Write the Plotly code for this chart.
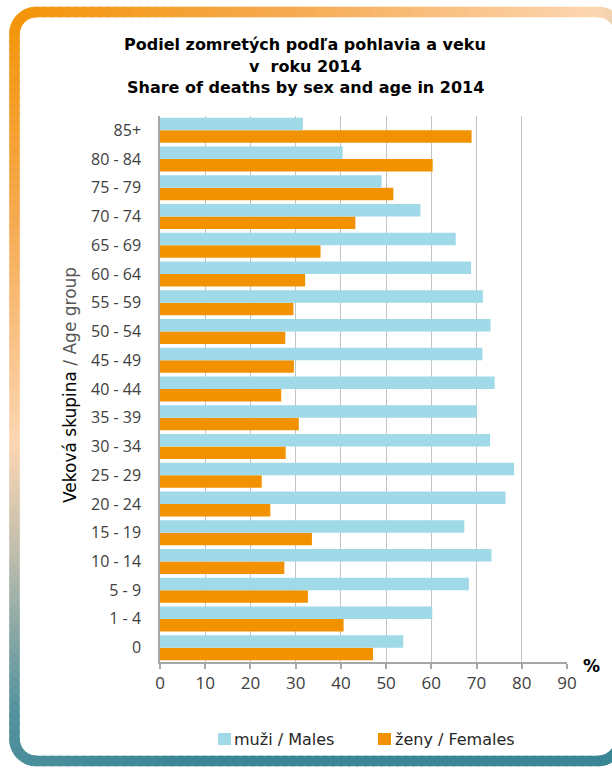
import math

import plotly.graph_objects as go

# age groups, bottom to top
age_groups = ['0', '1 - 4', '5 - 9', '10 - 14', '15 - 19', '20 - 24', '25 - 29',
              '30 - 34', '35 - 39', '40 - 44', '45 - 49', '50 - 54', '55 - 59',
              '60 - 64', '65 - 69', '70 - 74', '75 - 79', '80 - 84', '85+']
males = [53.8, 60.2, 68.3, 73.3, 67.3, 76.4, 78.3, 73.0, 70.1, 74.0,
         71.3, 73.1, 71.4, 68.8, 65.4, 57.6, 49.0, 40.4, 31.6]
females = [47.1, 40.6, 32.7, 27.5, 33.6, 24.4, 22.5, 27.8, 30.7, 26.8,
           29.6, 27.7, 29.5, 32.1, 35.5, 43.2, 51.6, 60.3, 68.9]
x_ticks = [0, 10, 20, 30, 40, 50, 60, 70, 80, 90]
title_lines = ['Podiel zomretých podľa pohlavia a veku',
               'v\u00a0 roku 2014',
               'Share of deaths by sex and age in 2014']
male_name = 'muži / Males'
female_name = 'ženy / Females'

W, H = 612, 768
ML, MR, MT, MB = 160, 45, 116, 106
PW, PH = W - ML - MR, H - MT - MB

BLUE = '#a0dae9'
ORANGE = '#f39200'
TICK_FONT = dict(family='Open Sans, DejaVu Sans, sans-serif', size=16, color='#404040')
TEXT_FONT = 'DejaVu Sans, sans-serif'


def px2paper(x, y):
    return (x - ML) / PW, (H - MB - y) / PH


def lerp(c1, c2, f):
    return tuple(int(round(a + (b - a) * f)) for a, b in zip(c1, c2))


# gradient stops for the frame (orange top-left -> peach -> teal bottom)
stops = [(0.0, (243, 146, 0)), (0.25, (246, 170, 80)), (0.5, (252, 214, 178)),
         (0.62, (192, 190, 172)), (0.8, (82, 146, 158)), (1.0, (58, 134, 150))]


def frame_color(x, y):
    t = max(0.0, min(1.0, 0.5 * x / W + 0.85 * y / H))
    for (t0, c0), (t1, c1) in zip(stops, stops[1:]):
        if t <= t1:
            return 'rgb(%d,%d,%d)' % lerp(c0, c1, (t - t0) / (t1 - t0))
    return 'rgb(%d,%d,%d)' % stops[-1][1]


def frame_points(x0, y0, x1, y1, r, n=14, seg=8):
    pts = []

    def edge(a, b):
        d = math.hypot(b[0] - a[0], b[1] - a[1])
        k = max(1, int(d / seg))
        for i in range(k):
            pts.append((a[0] + (b[0] - a[0]) * i / k, a[1] + (b[1] - a[1]) * i / k))

    def arc(cx, cy, a0):
        for i in range(n):
            a = math.radians(a0 + 90 * i / n)
            pts.append((cx + r * math.cos(a), cy + r * math.sin(a)))

    edge((x0 + r, y0), (x1 - r, y0))
    arc(x1 - r, y0 + r, -90)
    edge((x1, y0 + r), (x1, y1 - r))
    arc(x1 - r, y1 - r, 0)
    edge((x1 - r, y1), (x0 + r, y1))
    arc(x0 + r, y1 - r, 90)
    edge((x0, y1 - r), (x0, y0 + r))
    arc(x0 + r, y0 + r, 180)
    pts.append(pts[0])
    return pts


shapes = []
pts = frame_points(14.5, 12, 620, 761, 22)
for (xa, ya), (xb, yb) in zip(pts, pts[1:]):
    d = math.hypot(xb - xa, yb - ya) or 1
    ux, uy = (xb - xa) / d * 1.5, (yb - ya) / d * 1.5
    pa, pb = px2paper(xa - ux, ya - uy), px2paper(xb + ux, yb + uy)
    shapes.append(dict(type='line', xref='paper', yref='paper',
                       x0=pa[0], y0=pa[1], x1=pb[0], y1=pb[1],
                       line=dict(color=frame_color((xa + xb) / 2, (ya + yb) / 2), width=10.5),
                       layer='below'))

# legend swatches
for (lx, col) in [(218, BLUE), (378, ORANGE)]:
    a, b = px2paper(lx, 733), px2paper(lx + 13, 745)
    shapes.append(dict(type='rect', xref='paper', yref='paper', x0=a[0], y0=b[1], x1=b[0], y1=a[1],
                       fillcolor=col, line=dict(width=0)))

fig = go.Figure()
fig.add_trace(go.Bar(y=age_groups, x=females, orientation='h', name=female_name,
                     marker=dict(color=ORANGE, line=dict(width=0))))
fig.add_trace(go.Bar(y=age_groups, x=males, orientation='h', name=male_name,
                     marker=dict(color=BLUE, line=dict(width=0))))

annotations = []
for line, ty in zip(title_lines, [44, 66, 88]):
    annotations.append(dict(text='<b>%s</b>' % line, xref='paper', yref='paper',
                            x=px2paper(305, 0)[0], y=px2paper(0, ty)[1],
                            xanchor='center', yanchor='middle', showarrow=False,
                            font=dict(family=TEXT_FONT, size=16, color='black')))
annotations += [
    dict(text='<span style="color:black">Veková skupina</span> / Age group',
         xref='paper', yref='paper', x=px2paper(70, 0)[0], y=px2paper(0, 385)[1],
         xanchor='center', yanchor='middle', textangle=-90, showarrow=False,
         font=dict(family=TEXT_FONT, size=17, color='#595959')),
    dict(text='<b>%</b>', xref='paper', yref='paper',
         x=px2paper(591, 0)[0], y=px2paper(0, 666)[1],
         xanchor='center', yanchor='middle', showarrow=False,
         font=dict(family=TEXT_FONT, size=17, color='black')),
    dict(text=male_name, xref='paper', yref='paper', x=px2paper(232, 0)[0], y=px2paper(0, 739)[1],
         xanchor='left', yanchor='middle', showarrow=False,
         font=dict(family=TEXT_FONT, size=16, color='#262626')),
    dict(text=female_name, xref='paper', yref='paper', x=px2paper(393, 0)[0], y=px2paper(0, 739)[1],
         xanchor='left', yanchor='middle', showarrow=False,
         font=dict(family=TEXT_FONT, size=16, color='#262626')),
]

fig.update_layout(
    width=W, height=H,
    margin=dict(l=ML, r=MR, t=MT, b=MB),
    paper_bgcolor='white', plot_bgcolor='white',
    barmode='group', bargap=0.13, bargroupgap=0,
    shapes=shapes,
    showlegend=False,
    xaxis=dict(range=[0, 90], tickvals=x_ticks, showgrid=True, gridcolor='#c4c4c4', gridwidth=1.4,
               showline=True, linecolor='#a6a6a6', linewidth=1.5, ticks='outside', ticklen=5,
               tickcolor='#a6a6a6', tickwidth=1.5, tickfont=dict(TICK_FONT, size=17),
               zeroline=False, fixedrange=True, automargin=False),
    yaxis=dict(type='category', showline=True, linecolor='#a6a6a6', linewidth=1.5,
               ticks='', tickfont=TICK_FONT, ticklabelstandoff=14, showgrid=False,
               fixedrange=True, automargin=False),
    annotations=annotations,
)

fig.write_html('out.html', config={'displayModeBar': False},
               post_script="document.body.style.margin='0';")
